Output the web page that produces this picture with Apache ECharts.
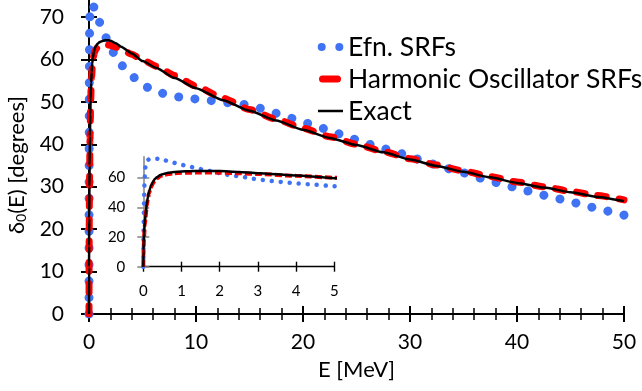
<!DOCTYPE html>
<html>
<head>
<meta charset="utf-8">
<script src="https://cdn.jsdelivr.net/npm/echarts@6/dist/echarts.min.js"></script>
<style>
  html, body { margin: 0; padding: 0; background: #fff; }
  #chart { width: 642px; height: 391px; }
</style>
</head>
<body>
<div id="chart"></div>
<script>
// s-wave phase shift delta_0(E) in degrees vs. energy E in MeV

// Efn. SRFs
const efnE = [0, 0.01, 0.02, 0.03, 0.045, 0.06, 0.1, 0.17, 0.26, 0.4, 0.51, 0.74, 0.97, 1.22, 1.45, 1.69,
  1.92, 2.15, 2.39, 2.63, 2.86, 3.1, 3.34, 3.58, 3.82, 4.05, 4.3, 4.53, 4.78, 5.0, 5.5, 6.0, 6.7,
  7.5, 8.2, 9.0, 9.8, 11.3, 12.9, 14.4, 16.0, 17.5, 19.0, 20.5, 22.0, 23.5, 25.0, 26.4, 27.9, 29.4,
  30.9, 32.4, 33.9, 35.5, 36.9, 38.4, 40.0, 41.5, 43.0, 44.6, 46.1, 47.6, 49.1, 50.0];
const efnDelta = [0, 30, 45, 55, 64, 68.5, 71.5, 72.7, 73.0, 72.6, 72.0, 70.4, 68.8, 67.3, 66.0, 64.6,
  63.3, 62.1, 61.2, 60.3, 59.2, 58.5, 57.7, 57.1, 56.5, 56.0, 55.6, 55.1, 54.6, 54.2, 53.4, 52.8, 52.1,
  51.6, 51.2, 51.0, 50.7, 50.3, 49.8, 49.4, 48.5, 47.3, 46.1, 44.9, 43.7, 42.4, 41.1, 39.9, 38.8, 37.7,
  36.4, 35.2, 34.1, 33.0, 31.8, 30.8, 29.7, 28.7, 27.7, 26.8, 25.8, 24.8, 23.9, 23.3];

// Harmonic Oscillator SRFs
const hoE = [0, 0.005, 0.01, 0.02, 0.04, 0.06, 0.09, 0.12, 0.15, 0.2, 0.25, 0.3, 0.36, 0.45, 0.53, 0.65,
  0.8, 1.0, 1.2, 1.5, 1.8, 2.0, 2.5, 3.0, 4.0, 5.0, 6.3, 8.0, 10, 12.5, 15, 17.5, 20, 22.5, 25, 27.5,
  30, 32.5, 35, 37.5, 40, 42.5, 45, 47.5, 50];
const hoDelta = [0, 8, 13, 20, 28, 33.5, 41, 45.5, 49.5, 53.5, 56, 58, 59.5, 61, 61.8, 62.4,
  62.9, 63.2, 63.3, 63.4, 63.4, 63.3, 62.9, 62.4, 61.2, 59.9, 58.4, 56.2, 53.7, 50.9, 48.2, 45.9, 43.8, 41.8, 40.0, 38.3,
  36.6, 35.1, 33.7, 32.4, 31.1, 30.0, 28.9, 27.9, 26.9];

// Exact
const exactE = [0, 0.005, 0.01, 0.02, 0.04, 0.06, 0.09, 0.12, 0.15, 0.2, 0.25, 0.3, 0.36, 0.45, 0.53, 0.65,
  0.8, 1.0, 1.2, 1.5, 1.8, 2.0, 2.5, 3.0, 4.0, 5.0, 6.3, 8.0, 10, 12.5, 15, 17.5, 20, 22.5, 25, 27.5,
  30, 32.5, 35, 37.5, 40, 42.5, 45, 47.5, 50];
const exactDelta = [0, 11, 16, 22.5, 30, 35, 42, 47, 50.5, 54.5, 57, 59, 60.3, 61.7, 62.5, 63.2,
  63.7, 64.1, 64.3, 64.5, 64.5, 64.4, 63.8, 63.0, 61.4, 59.6, 58.0, 55.6, 53.2, 50.4, 47.9, 45.6, 43.4, 41.5, 39.8, 38.1,
  36.4, 34.9, 33.5, 32.2, 30.9, 29.8, 28.7, 27.6, 26.6];

// tick labels
const mainYTicks = [0, 10, 20, 30, 40, 50, 60, 70];
const mainXTicks = [0, 10, 20, 30, 40, 50];
const insetYTicks = [0, 20, 40, 60];
const insetXTicks = [0, 1, 2, 3, 4, 5];

const seriesNames = ['Efn. SRFs', 'Harmonic Oscillator SRFs', 'Exact'];

const BLUE = '#3f73f4';
const RED = '#ff0000';
const BLACK = '#000000';
const GREY = '#8a8a8a';
const FONT = 'Lato';

const pairs = (xs, ys) => xs.map((x, i) => [x, ys[i]]);

const chart = echarts.init(document.getElementById('chart'), null, { renderer: 'canvas' });

const mainAxisLine = { show: true, onZero: false, lineStyle: { color: BLACK, width: 2 } };
const insetXLine = { show: true, onZero: false, lineStyle: { color: BLACK, width: 1.4 } };
const insetYLine = { show: true, onZero: false, lineStyle: { color: GREY, width: 1.6 } };

const option = {
  animation: false,
  backgroundColor: '#ffffff',
  textStyle: { fontFamily: FONT },
  grid: [
    { left: 89, right: 18, top: 0, bottom: 77, outerBoundsMode: 'none', containLabel: false },
    { left: 143.3, right: 307.7, top: 156.8, bottom: 124.3, outerBoundsMode: 'none', containLabel: false }
  ],
  legend: {
    orient: 'vertical', left: 309, top: 26, itemGap: 0, itemWidth: 25, itemHeight: 10,
    textStyle: { fontFamily: FONT, fontSize: 26.5, color: BLACK, lineHeight: 32 },
    data: [
      { name: seriesNames[0], itemStyle: { opacity: 0 },
        lineStyle: { color: BLUE, width: 8, type: [0.01, 17.6], dashOffset: 13.9, cap: 'round' } },
      { name: seriesNames[1], itemStyle: { opacity: 0 },
        lineStyle: { color: RED, width: 7, type: [15, 20], dashOffset: -4.5, cap: 'round' } },
      { name: seriesNames[2], itemStyle: { opacity: 0 },
        lineStyle: { color: BLACK, width: 2.5, type: 'solid' } }
    ]
  },
  xAxis: [
    // main E axis
    {
      type: 'value', gridIndex: 0, min: 0, max: 50, interval: 10, position: 'bottom',
      name: 'E [MeV]', nameLocation: 'middle', nameGap: 45,
      nameTextStyle: { fontFamily: FONT, fontSize: 22, color: BLACK },
      axisLine: mainAxisLine,
      axisTick: { show: true, inside: false, length: 8, lineStyle: { color: BLACK, width: 2 } },
      minorTick: { show: true, splitNumber: 5, length: 6, lineStyle: { color: BLACK, width: 1.5 } },
      axisLabel: { customValues: mainXTicks, fontFamily: FONT, fontSize: 21, color: BLACK, margin: 18 },
      splitLine: { show: false }
    },
    // inset E axis
    {
      type: 'value', gridIndex: 1, min: 0, max: 5, interval: 1, position: 'bottom',
      axisLine: insetXLine,
      axisTick: { show: true, inside: false, length: 5, lineStyle: { color: BLACK, width: 1.4 } },
      axisLabel: { customValues: insetXTicks, fontFamily: FONT, fontSize: 15, color: BLACK, margin: 17 },
      splitLine: { show: false }
    },
    // inner half of the crossing ticks, main
    {
      type: 'value', gridIndex: 0, min: 0, max: 50, interval: 10, position: 'bottom',
      axisLine: { show: false },
      axisTick: { show: true, inside: true, length: 8, lineStyle: { color: BLACK, width: 2 } },
      minorTick: { show: true, splitNumber: 5, length: 6, lineStyle: { color: BLACK, width: 1.5 } },
      axisLabel: { show: false }, splitLine: { show: false }
    },
    // inner half of the crossing ticks, inset
    {
      type: 'value', gridIndex: 1, min: 0, max: 5, interval: 1, position: 'bottom',
      axisLine: { show: false },
      axisTick: { show: true, inside: true, length: 5, lineStyle: { color: BLACK, width: 1.4 } },
      axisLabel: { show: false }, splitLine: { show: false }
    }
  ],
  yAxis: [
    {
      type: 'value', gridIndex: 0, min: 0, max: 74, interval: 10, position: 'left',
      name: '{g|δ}{s|0}{g|(E) [degrees]}', nameLocation: 'middle', nameGap: 60,
      nameTextStyle: {
        fontFamily: FONT, fontSize: 22, color: BLACK, padding: [0, 16, 0, 0],
        rich: {
          g: { fontFamily: FONT, fontSize: 22, color: BLACK },
          s: { fontFamily: FONT, fontSize: 14, color: BLACK, verticalAlign: 'bottom', padding: [9, 0, 0, 0] }
        }
      },
      axisLine: mainAxisLine,
      axisTick: { show: true, inside: false, length: 8, customValues: mainYTicks, lineStyle: { color: BLACK, width: 2 } },
      axisLabel: { customValues: mainYTicks, fontFamily: FONT, fontSize: 21, color: BLACK, margin: 25 },
      splitLine: { show: false }
    },
    {
      type: 'value', gridIndex: 1, min: 0, max: 74, interval: 20, position: 'left',
      axisLine: insetYLine,
      axisTick: { show: true, inside: false, length: 6, customValues: insetYTicks, lineStyle: { color: GREY, width: 1.6 } },
      axisLabel: { customValues: insetYTicks, fontFamily: FONT, fontSize: 15, color: BLACK, margin: 18 },
      splitLine: { show: false }
    },
    {
      type: 'value', gridIndex: 0, min: 0, max: 74, interval: 10, position: 'left',
      axisLine: { show: false },
      axisTick: { show: true, inside: true, length: 8, customValues: mainYTicks, lineStyle: { color: BLACK, width: 2 } },
      axisLabel: { show: false }, splitLine: { show: false }
    },
    {
      type: 'value', gridIndex: 1, min: 0, max: 74, interval: 20, position: 'left',
      axisLine: { show: false },
      axisTick: { show: true, inside: true, length: 6, customValues: insetYTicks, lineStyle: { color: GREY, width: 1.6 } },
      axisLabel: { show: false }, splitLine: { show: false }
    }
  ],
  series: [
    {
      name: seriesNames[0], type: 'line', xAxisIndex: 0, yAxisIndex: 0, data: pairs(efnE, efnDelta),
      symbol: 'none', smooth: 0.2, smoothMonotone: 'x', z: 2,
      lineStyle: { color: BLUE, width: 9, type: [0.01, 16.5], cap: 'round' }, itemStyle: { color: BLUE }
    },
    {
      name: seriesNames[1], type: 'line', xAxisIndex: 0, yAxisIndex: 0, data: pairs(hoE, hoDelta),
      symbol: 'none', smooth: 0.2, smoothMonotone: 'x', z: 3,
      lineStyle: { color: RED, width: 7, type: [8.5, 13], cap: 'round' }, itemStyle: { color: RED }
    },
    {
      name: seriesNames[2], type: 'line', xAxisIndex: 0, yAxisIndex: 0, data: pairs(exactE, exactDelta),
      symbol: 'none', smooth: 0.2, smoothMonotone: 'x', z: 4,
      lineStyle: { color: BLACK, width: 2.5 }, itemStyle: { color: BLACK }
    },
    {
      name: 'inset-efn', type: 'line', xAxisIndex: 1, yAxisIndex: 1, data: pairs(efnE, efnDelta),
      symbol: 'none', smooth: 0.2, smoothMonotone: 'x', z: 2,
      lineStyle: { color: BLUE, width: 4.5, type: [0.01, 9], cap: 'round' }
    },
    {
      name: 'inset-ho', type: 'line', xAxisIndex: 1, yAxisIndex: 1, data: pairs(hoE, hoDelta),
      symbol: 'none', smooth: 0.2, smoothMonotone: 'x', z: 3,
      lineStyle: { color: RED, width: 4, type: [7, 3] }
    },
    {
      name: 'inset-exact', type: 'line', xAxisIndex: 1, yAxisIndex: 1, data: pairs(exactE, exactDelta),
      symbol: 'none', smooth: 0.2, smoothMonotone: 'x', z: 4,
      lineStyle: { color: BLACK, width: 2.5 }
    }
  ]
};

chart.setOption(option);
</script>
</body>
</html>
